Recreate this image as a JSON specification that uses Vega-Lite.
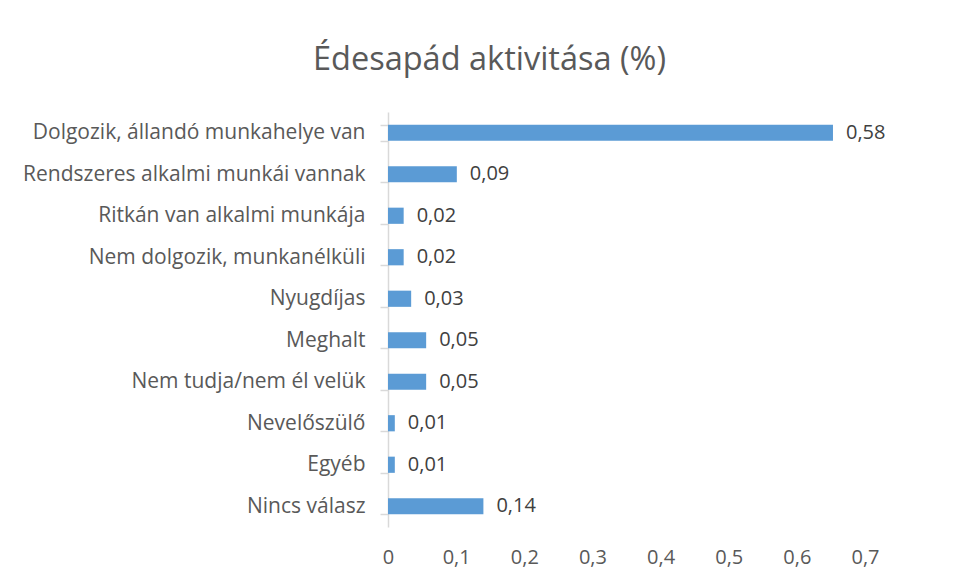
{
  "$schema": "https://vega.github.io/schema/vega-lite/v6.json",
  "width": 477,
  "height": 415,
  "autosize": {"type": "none"},
  "padding": {"left": 388, "top": 112, "right": 93, "bottom": 56},
  "background": "white",
  "title": {
    "text": "Édesapád aktivitása (%)",
    "fontSize": 32.5,
    "font": "Open Sans",
    "fontWeight": "normal",
    "color": "#595959",
    "anchor": "middle",
    "frame": "group",
    "dx": -137,
    "offset": 25
  },
  "data": {
    "values": [
      {"category": "Dolgozik, állandó munkahelye van", "value": 0.653, "label": "0,58"},
      {"category": "Rendszeres alkalmi munkái vannak", "value": 0.101, "label": "0,09"},
      {"category": "Ritkán van alkalmi munkája", "value": 0.023, "label": "0,02"},
      {"category": "Nem dolgozik, munkanélküli", "value": 0.023, "label": "0,02"},
      {"category": "Nyugdíjas", "value": 0.034, "label": "0,03"},
      {"category": "Meghalt", "value": 0.056, "label": "0,05"},
      {"category": "Nem tudja/nem él velük", "value": 0.056, "label": "0,05"},
      {"category": "Nevelőszülő", "value": 0.01, "label": "0,01"},
      {"category": "Egyéb", "value": 0.01, "label": "0,01"},
      {"category": "Nincs válasz", "value": 0.14, "label": "0,14"}
    ]
  },
  "encoding": {
    "y": {
      "field": "category",
      "type": "nominal",
      "sort": null,
      "scale": {"paddingInner": 0.61, "paddingOuter": 0.305},
      "axis": {
        "title": null,
        "tickBand": "extent",
        "tickSize": 8,
        "tickColor": "#d9d9d9",
        "domainColor": "#d9d9d9",
        "domainWidth": 1.5,
        "tickWidth": 1.5,
        "labelPadding": 15,
        "labelFontSize": 21,
        "labelFont": "Open Sans",
        "labelColor": "#595959",
        "labelLimit": 400
      }
    },
    "x": {
      "field": "value",
      "type": "quantitative",
      "scale": {"domain": [0, 0.7], "nice": false},
      "axis": {
        "title": null,
        "grid": false,
        "domain": false,
        "ticks": false,
        "values": [0, 0.1, 0.2, 0.3, 0.4, 0.5, 0.6, 0.7],
        "format": ".1~f",
        "labelPadding": 20,
        "labelFontSize": 20,
        "labelFont": "Open Sans",
        "labelColor": "#595959",
        "labelFlush": false
      }
    }
  },
  "layer": [
    {"mark": {"type": "bar", "color": "#5B9BD5"}},
    {
      "mark": {"type": "text", "align": "left", "baseline": "middle", "dx": 13, "fontSize": 20, "font": "Open Sans", "color": "#404040"},
      "encoding": {"text": {"field": "label", "type": "nominal"}}
    }
  ],
  "config": {
    "view": {"stroke": null},
    "locale": {"number": {"decimal": ",", "thousands": " ", "grouping": [3], "currency": ["", " Ft"]}}
  }
}
